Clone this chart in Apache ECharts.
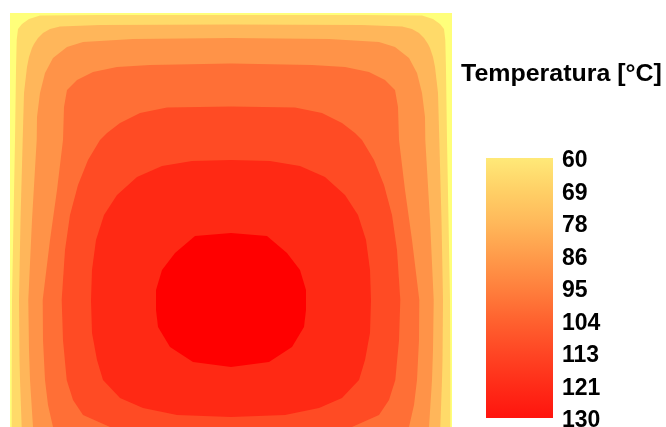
<!DOCTYPE html>
<html>
<head>
<meta charset="utf-8">
<script src="https://cdn.jsdelivr.net/npm/echarts@6/dist/echarts.min.js"></script>
<style>
  html, body { margin: 0; padding: 0; background: #ffffff; }
  #chart { width: 666px; height: 427px; }
</style>
</head>
<body>
<div id="chart"></div>
<script>
// Steady-state temperature field on a square plate (442 mm side),
// stored as isotherm outlines [x mm, y mm] with y measured down from the top edge.
const plateSize = 442;

// Contour levels in °C and the labels printed on the colour bar.
const levels = [60, 68.75, 77.5, 86.25, 95, 103.75, 112.5, 121.25, 130];
const tickLabels = ['60', '69', '78', '86', '95', '104', '113', '121', '130'];

// Plate outline (region T >= 60 °C)
const plate = [[0, 0], [442, 0], [442, 442], [0, 442]];

// Region T >= 68.75 °C
const iso69 = [
  [221, 2], [90, 2], [30, 2.5], [19, 6], [12, 11], [8, 16], [6.7, 27], [6, 57], [5, 127],
  [3.5, 207], [2, 287], [1.7, 367], [1.7, 427], [4, 435], [20, 439], [221, 439],
  [422, 439], [438, 435], [440.3, 427], [440.3, 367], [440, 287], [438.5, 207], [437, 127],
  [436, 57], [435.3, 27], [434, 16], [430, 11], [423, 6], [412, 2.5], [352, 2]
];

// Region T >= 77.5 °C
const iso78 = [
  [221, 11.5], [90, 12], [50, 13.5], [40, 16], [33, 20], [28, 25], [24, 31], [22, 35], [19, 44],
  [17, 54], [14, 80], [12.7, 127], [10.5, 207], [9, 287], [9.5, 347], [10, 367], [11.7, 414],
  [14, 424], [25, 433], [221, 436],
  [417, 433], [428, 424], [430.3, 414], [432, 367], [432.5, 347], [433, 287], [431.5, 207],
  [429.3, 127], [428, 80], [425, 54], [423, 44], [420, 35], [418, 31], [414, 25], [409, 20],
  [402, 16], [392, 13.5], [352, 12]
];

// Region T >= 86.25 °C
const iso86 = [
  [221, 25], [123, 26], [73, 29], [57, 34], [43, 45], [35, 60], [30, 80], [27, 104], [26.7, 127],
  [22, 207], [18.3, 287], [19, 337], [20, 367], [23, 414], [30, 423], [50, 430], [221, 432],
  [392, 430], [412, 423], [419, 414], [422, 367], [423, 337], [423.7, 287], [420, 207],
  [415.3, 127], [415, 104], [412, 80], [407, 60], [399, 45], [385, 34], [369, 29], [319, 26]
];

// Region T >= 95 °C
const iso95 = [
  [221, 50.5], [140, 52], [107, 54], [83, 59], [67, 67], [57, 77], [54, 94], [53, 127], [47, 177],
  [40, 227], [32.7, 287], [33, 327], [35, 367], [38, 392], [43, 414], [52, 421], [80, 426], [221, 428],
  [362, 426], [390, 421], [399, 414], [404, 392], [407, 367], [409, 327], [409.3, 287], [402, 227],
  [395, 177], [389, 127], [388, 94], [385, 77], [375, 67], [359, 59], [335, 54], [302, 52]
];

// Region T >= 103.75 °C
const iso104 = [
  [221, 93.5], [157, 94.5], [130, 100], [110, 110], [97, 120], [90, 127], [78, 147], [68, 172],
  [60, 202], [55, 237], [51.7, 287], [53, 327], [56.7, 367], [63, 387], [73, 402], [100, 414],
  [130, 420], [221, 424],
  [312, 420], [342, 414], [369, 402], [379, 387], [385.3, 367], [389, 327], [390.3, 287],
  [387, 237], [382, 202], [374, 172], [364, 147], [352, 127], [345, 120], [332, 110], [312, 100],
  [285, 94.5]
];

// Region T >= 112.5 °C
const iso113 = [
  [221, 147], [182, 148], [152, 153], [127, 164], [107, 182], [94, 202], [86, 227], [82, 257],
  [81, 287], [82, 320], [87, 347], [93, 367], [110, 385], [133, 395], [167, 402], [221, 404],
  [275, 402], [309, 395], [332, 385], [349, 367], [355, 347], [360, 320], [361, 287], [360, 257],
  [356, 227], [348, 202], [335, 182], [315, 164], [290, 153], [260, 148]
];

// Region T >= 121.25 °C
const iso121 = [
  [221, 220], [185, 223], [165, 240], [152, 257], [146, 277], [146, 297], [148, 314], [160, 334],
  [183, 349], [221, 354],
  [259, 349], [282, 334], [294, 314], [296, 297], [296, 277], [290, 257], [277, 240], [257, 223]
];

const regions = [plate, iso69, iso78, iso86, iso95, iso104, iso113, iso121];

// One fill colour per band, 60 °C (yellow) up to 130 °C (red)
const bandColors = ['#ffff7a', '#ffda69', '#ffb65a', '#ff9348', '#ff6f36', '#ff4b24', '#ff2914', '#ff0000'];

// Colour bar gradient, top (60 °C) to bottom (130 °C)
const barStops = ['#ffe978', '#ffd066', '#ffb85a', '#ff9c4b', '#ff803d', '#ff622f', '#ff4624', '#ff2c18', '#ff140e'];

const FONT = '"Liberation Sans", Arial, Helvetica, sans-serif';

const chart = echarts.init(document.getElementById('chart'), null, { renderer: 'canvas' });

chart.setOption({
  animation: false,
  backgroundColor: '#ffffff',
  graphic: [{
    type: 'text',
    x: 461,
    y: 63.5,
    scaleX: 1.085,
    silent: true,
    style: {
      text: 'Temperatura [°C]',
      fontFamily: FONT, fontSize: 23, fontWeight: 'bold', fill: '#000000',
      textAlign: 'left', textVerticalAlign: 'top'
    }
  }],
  grid: [
    // temperature field
    { left: 10, top: 13, width: 442, height: 442, outerBoundsMode: 'none', containLabel: false },
    // colour bar
    { left: 486, top: 158, width: 67, height: 260, outerBoundsMode: 'none', containLabel: false },
    // colour bar labels (baseline-corrected so the digits sit centred on each level)
    { left: 486, top: 161, width: 67, height: 260, outerBoundsMode: 'none', containLabel: false }
  ],
  xAxis: [
    { gridIndex: 0, type: 'value', min: 0, max: plateSize, show: false },
    { gridIndex: 1, type: 'value', min: 0, max: 1, show: false },
    { gridIndex: 2, type: 'value', min: 0, max: 1, show: false }
  ],
  yAxis: [
    { gridIndex: 0, type: 'value', min: 0, max: plateSize, inverse: true, show: false },
    { gridIndex: 1, type: 'value', min: 0, max: tickLabels.length - 1, inverse: true, show: false },
    {
      gridIndex: 2, type: 'value', min: 0, max: tickLabels.length - 1, interval: 1,
      inverse: true, position: 'right',
      axisLine: { show: false }, axisTick: { show: false }, splitLine: { show: false },
      axisLabel: {
        margin: 9,
        fontFamily: FONT, fontSize: 23, fontWeight: 'bold', color: '#000000',
        formatter: (v) => tickLabels[Math.round(v)]
      }
    }
  ],
  series: [
    {
      type: 'custom',
      coordinateSystem: 'cartesian2d',
      xAxisIndex: 0, yAxisIndex: 0,
      silent: true,
      clip: true,
      data: regions.map((r, i) => [r[0][0], r[0][1], levels[i]]),
      renderItem: (params, api) => {
        const poly = regions[params.dataIndex];
        return {
          type: 'polygon',
          shape: { points: poly.map((p) => api.coord(p)) },
          style: { fill: bandColors[params.dataIndex], stroke: null }
        };
      }
    },
    {
      type: 'custom',
      coordinateSystem: 'cartesian2d',
      xAxisIndex: 1, yAxisIndex: 1,
      silent: true,
      data: [[0, 0]],
      renderItem: (params, api) => {
        const a = api.coord([0, 0]);
        const b = api.coord([1, tickLabels.length - 1]);
        return {
          type: 'rect',
          shape: { x: a[0], y: a[1], width: b[0] - a[0], height: b[1] - a[1] },
          style: {
            fill: new echarts.graphic.LinearGradient(0, 0, 0, 1,
              barStops.map((c, i) => ({ offset: i / (barStops.length - 1), color: c })))
          }
        };
      }
    }
  ]
});
</script>
</body>
</html>
